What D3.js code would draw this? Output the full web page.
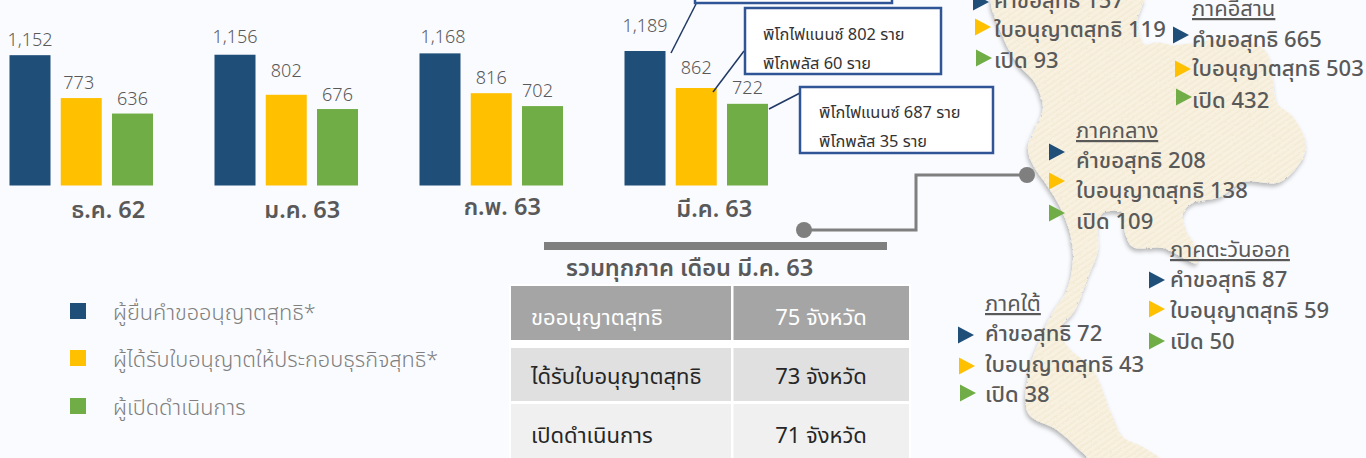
<!DOCTYPE html>
<html><head><meta charset="utf-8">
<script src="https://d3js.org/d3.v7.min.js"></script>
<style>
html,body{margin:0;padding:0;background:#fafbfe;overflow:hidden}
text{font-family:"Noto Sans","Noto Sans Thai","Open Sans",sans-serif}
</style></head><body><svg id="c" width="1366" height="458"></svg>
<script>
const months=["ธ.ค. 62","ม.ค. 63","ก.พ. 63","มี.ค. 63"];
const applicants=[1152,1156,1168,1189];
const licensed=[773,802,816,862];
const opened=[636,676,702,722];
const seriesColors=["#1f4e79","#ffc000","#70ad47"];
const legendLabels=["ผู้ยื่นคำขออนุญาตสุทธิ*","ผู้ได้รับใบอนุญาตให้ประกอบธุรกิจสุทธิ*","ผู้เปิดดำเนินการ"];
const rowLabels=["คำขอสุทธิ","ใบอนุญาตสุทธิ","เปิด"];
const regionNames=["","ภาคอีสาน","ภาคกลาง","ภาคตะวันออก","ภาคใต้"];
const regionApplied=[157,665,208,87,72];
const regionLicensed=[119,503,138,59,43];
const regionOpened=[93,432,109,50,38];
const tableRows=["ขออนุญาตสุทธิ","ได้รับใบอนุญาตสุทธิ","เปิดดำเนินการ"];
const tableVals=["75 จังหวัด","73 จังหวัด","71 จังหวัด"];
const tableTitle="รวมทุกภาค เดือน มี.ค. 63";
const calloutLines=[["พิโกไฟแนนซ์ 802 ราย","พิโกพลัส 60 ราย"],["พิโกไฟแนนซ์ 687 ราย","พิโกพลัส 35 ราย"]];

const svg=d3.select("#c"), TXT="#595959";
const defs=svg.append("defs");
const pat=defs.append("pattern").attr("id","tex").attr("width",5).attr("height",5)
  .attr("patternUnits","userSpaceOnUse").attr("patternTransform","rotate(-35)");
pat.append("rect").attr("width",5).attr("height",5).attr("fill","#f7efdd");
pat.append("line").attr("x1",0).attr("x2",5).attr("y1",1.5).attr("y2",1.5).attr("stroke","#f2e8d1").attr("stroke-width",0.8);
pat.append("line").attr("x1",0).attr("x2",5).attr("y1",3.8).attr("y2",3.8).attr("stroke","#faf4e6").attr("stroke-width",0.8);
const f=defs.append("filter").attr("id","rough").attr("x","-10%").attr("y","-10%").attr("width","120%").attr("height","120%");
f.append("feTurbulence").attr("type","fractalNoise").attr("baseFrequency",0.25).attr("numOctaves",2).attr("seed",3).attr("result","n");
f.append("feDisplacementMap").attr("in","SourceGraphic").attr("in2","n").attr("scale",2.5).attr("result","d");
f.append("feDropShadow").attr("in","d").attr("dx",-1).attr("dy",3).attr("stdDeviation",2).attr("flood-color","#000").attr("flood-opacity",0.28);

// map silhouette (decorative backdrop)
const mapOutline=[[993,-6],[1003,37],[1017,63],[1035,83],[1043,107],[1038,123],[1028,147],[1032,163],[1048,187],[1060,207],[1070,233],[1073,260],[1067,290],[1050,317],[1040,340],[1030,367],[1028,413],[1057,430],[1083,453],[1095,464],[1165,464],[1143,447],[1123,437],[1110,410],[1093,370],[1068,347],[1060,330],[1075,310],[1088,277],[1098,250],[1098,227],[1103,213],[1123,213],[1125,233],[1133,247],[1163,248],[1197,263],[1192,240],[1187,233],[1183,213],[1193,203],[1220,197],[1243,182],[1280,182],[1303,157],[1305,140],[1293,117],[1277,103],[1273,83],[1267,53],[1253,43],[1217,40],[1173,45],[1157,42],[1145,45],[1137,23],[1142,-6]];
svg.append("path").attr("d",d3.line().curve(d3.curveCatmullRomClosed.alpha(0.5))(mapOutline))
  .attr("fill","url(#tex)").attr("filter","url(#rough)");

// bars
const x0=d3.scaleBand().domain(months).range([9.5,9.5+205*4]).paddingInner(0).paddingOuter(0).align(0);
const x1=d3.scaleBand().domain([0,1,2]).range([0,143.5]).paddingInner(0.2).paddingOuter(0);
const y=d3.scaleLinear().domain([0,1189]).range([185.5,51]);
const series=[applicants,licensed,opened];
// label offsets [dx, dy] per series/month as placed in the reference
const lblOffset=[[[0,-9.5],[0,-11.5],[3,-10],[0,-19]],[[-2.5,-9],[0,-18],[0,-9.5],[0,-14]],[[0,-8.5],[0,-8.5],[-5,-9],[0,-9.5]]];
const catOffset=[[27,218],[16,218],[11,215],[18,217]];
const g=svg.append("g");
months.forEach((m,i)=>{
  series.forEach((vals,s)=>{
    const v=vals[i], bx=x0(m)+x1(s), o=lblOffset[s][i];
    g.append("rect").attr("x",bx).attr("y",y(v)).attr("width",x1.bandwidth()).attr("height",y(0)-y(v)).attr("fill",seriesColors[s]);
    g.append("text").attr("x",bx+x1.bandwidth()/2+o[0]).attr("y",y(v)+o[1]).attr("text-anchor","middle")
      .attr("font-size",18).attr("font-weight",300).attr("fill",TXT).text(d3.format(",")(v));
  });
  g.append("text").attr("x",x0(m)+x1(1)+x1.bandwidth()/2+catOffset[i][0]).attr("y",catOffset[i][1]).attr("text-anchor","middle")
    .attr("font-size",23.5).attr("font-weight",600).attr("fill",TXT).text(m);
});

// callouts
const navy="#2f5597";
[[671,53,696,4],[713,92,744,51],[769,109,800,93]].forEach(d=>svg.append("line").attr("x1",d[0]).attr("y1",d[1]).attr("x2",d[2]).attr("y2",d[3]).attr("stroke","#1f3864").attr("stroke-width",1.5));
svg.append("rect").attr("x",695).attr("y",-10).attr("width",197).attr("height",13).attr("fill","#fff").attr("stroke",navy).attr("stroke-width",2.5);
[[745,8,196,66,763,40,69],[800,87,193,66,819,118,147]].forEach((b,i)=>{
  svg.append("rect").attr("x",b[0]).attr("y",b[1]).attr("width",b[2]).attr("height",b[3]).attr("fill","#fff").attr("stroke",navy).attr("stroke-width",2.5);
  calloutLines[i].forEach((t,j)=>svg.append("text").attr("x",b[4]).attr("y",b[5+j]).attr("font-size",16.4).attr("fill","#333").text(t));
});

// connector
svg.append("path").attr("d",d3.line()([[804,230],[916,230],[916,175],[1027,175]])).attr("fill","none").attr("stroke","#7f7f7f").attr("stroke-width",3);
[[804,230],[1027,175]].forEach(d=>svg.append("circle").attr("cx",d[0]).attr("cy",d[1]).attr("r",8).attr("fill","#7f7f7f"));
svg.append("rect").attr("x",544).attr("y",242).attr("width",343).attr("height",8).attr("fill","#7f7f7f");

// table
svg.append("text").attr("x",566).attr("y",276).attr("font-size",23.6).attr("font-weight",600).attr("fill",TXT).text(tableTitle);
svg.append("rect").attr("x",509).attr("y",284).attr("width",402).attr("height",174).attr("fill","#fff");
const rowsY=[[286,54,"#a5a5a5","#fff",325],[348,53,"#e0e0e0","#262626",384],[404,54,"#f0f0f0","#262626",443]];
tableRows.forEach((t,i)=>{
  const r=rowsY[i];
  svg.append("rect").attr("x",511).attr("y",r[0]).attr("width",220).attr("height",r[1]).attr("fill",r[2]);
  svg.append("rect").attr("x",733.5).attr("y",r[0]).attr("width",175.5).attr("height",r[1]).attr("fill",r[2]);
  svg.append("text").attr("x",531).attr("y",r[4]).attr("font-size",22).attr("fill",r[3]).text(t);
  svg.append("text").attr("x",821).attr("y",r[4]).attr("text-anchor","middle").attr("font-size",22).attr("fill",r[3]).text(tableVals[i]);
});

// legend
const legendY=[303,350,398];
legendLabels.forEach((t,i)=>{
  svg.append("rect").attr("x",70).attr("y",legendY[i]).attr("width",16).attr("height",16).attr("fill",seriesColors[i]);
  svg.append("text").attr("x",113).attr("y",legendY[i]+17).attr("font-size",21.7).attr("fill","#7f7f7f").attr("font-weight",300).text(t);
});

// regional blocks
const regionLayout=[
 {tx:994,head:-21,base:[8,37,68],tri:[[973,2],[975,27],[976,58]]},
 {tx:1192,head:16,base:[47,76,108],tri:[[1173,35],[1175,69],[1176,97]]},
 {tx:1076,head:138,base:[168,198,229],tri:[[1049,152],[1049,181],[1049,213]]},
 {tx:1170,head:257,base:[287,318,349],tri:[[1149,280],[1149,309],[1149,341]]},
 {tx:985,head:311,base:[341,372,402],tri:[[958,335],[959,366],[960,393]]}];
const rvals=[regionApplied,regionLicensed,regionOpened];
regionNames.forEach((n,i)=>{
  const L=regionLayout[i];
  if(n) svg.append("text").attr("x",L.tx).attr("y",L.head).attr("font-size",22).attr("fill",TXT).attr("text-decoration","underline").text(n);
  rowLabels.forEach((lab,j)=>{
    svg.append("text").attr("x",L.tx).attr("y",L.base[j]).attr("font-size",22).attr("font-weight",500).attr("fill",TXT).text(lab+" "+rvals[j][i]);
    const [tx,ty]=L.tri[j];
    svg.append("path").attr("d",d3.line()([[tx,ty-8.5],[tx+16,ty],[tx,ty+8.5]])+"Z").attr("fill",seriesColors[j]);
  });
});
</script></body></html>
